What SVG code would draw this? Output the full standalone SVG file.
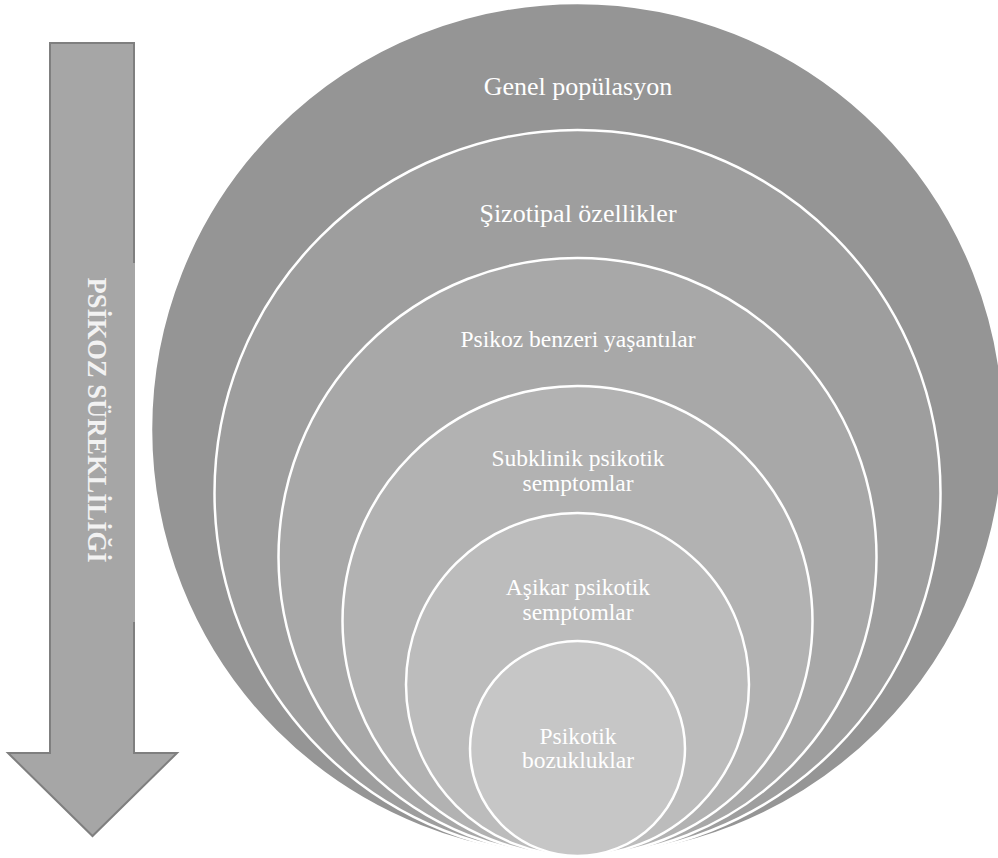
<svg xmlns="http://www.w3.org/2000/svg" width="998" height="858" viewBox="0 0 998 858">
  <style>
    .ring { stroke: #ffffff; stroke-width: 2.5; }
    .lbl { font-family: 'Liberation Serif', 'DejaVu Serif', serif; font-weight: normal; fill: #ffffff; text-anchor: middle; }
    .big { font-size: 26px; }
    .mid { font-size: 23.5px; }
    .axis { font-family: 'Liberation Serif', 'DejaVu Serif', serif; font-weight: bold; font-size: 26.5px; fill: #f2f2f2; text-anchor: middle; }
  </style>

  <!-- continuum arrow -->
  <g id="continuum-arrow">
    <polygon points="50,43 134,43 134,753 177,753 92.5,836 8,753 50,753" fill="#a6a6a6" stroke="#7f7f7f" stroke-width="2"/>
    <rect x="52" y="263" width="83" height="359" fill="#a6a6a6"/>
    <text class="axis" transform="translate(88,420) rotate(90)">PSİKOZ SÜREKLİLİĞİ</text>
  </g>

  <!-- nested circles, all tangent at the bottom -->
  <g id="genel-populasyon">
    <circle class="ring" cx="577.5" cy="429.5" r="426.5" fill="#959595"/>
    <text class="lbl big" x="578" y="95">Genel popülasyon</text>
  </g>

  <g id="sizotipal-ozellikler">
    <circle class="ring" cx="577.5" cy="493" r="363" fill="#9e9e9e"/>
    <text class="lbl big" x="578" y="222">Şizotipal özellikler</text>
  </g>

  <g id="psikoz-benzeri">
    <circle class="ring" cx="577.5" cy="557" r="299" fill="#a8a8a8"/>
    <text class="lbl mid" x="578" y="347">Psikoz benzeri yaşantılar</text>
  </g>

  <g id="subklinik">
    <circle class="ring" cx="577.5" cy="621" r="235" fill="#b2b2b2"/>
    <text class="lbl mid" x="578" y="466">Subklinik psikotik</text>
    <text class="lbl mid" x="578" y="491">semptomlar</text>
  </g>

  <g id="asikar">
    <circle class="ring" cx="577.5" cy="684.5" r="171.5" fill="#bcbcbc"/>
    <text class="lbl mid" x="578" y="595">Aşikar psikotik</text>
    <text class="lbl mid" x="578" y="620">semptomlar</text>
  </g>

  <g id="psikotik-bozukluklar">
    <circle class="ring" cx="577.5" cy="748.5" r="107.5" fill="#c6c6c6"/>
    <text class="lbl mid" x="578" y="744">Psikotik</text>
    <text class="lbl mid" x="578" y="768">bozukluklar</text>
  </g>

  <g id="connectors"/>
</svg>
